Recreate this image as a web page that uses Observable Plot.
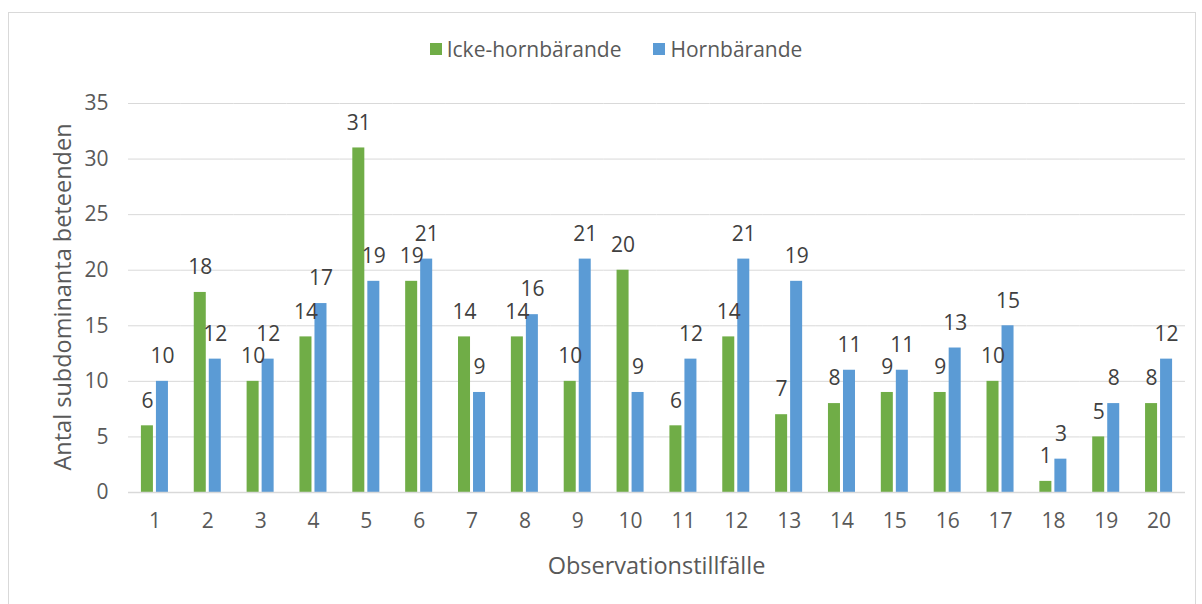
<!DOCTYPE html>
<html>
<head>
<meta charset="utf-8">
<script src="https://cdn.jsdelivr.net/npm/d3@7"></script>
<script src="https://cdn.jsdelivr.net/npm/@observablehq/plot@0.6"></script>
<style>
  body { margin: 0; background: #fff; font-family: "Open Sans", Lato, sans-serif; }
  #wrap { position: relative; width: 1202px; height: 604px; overflow: hidden; }
  #frame { position: absolute; left: 8px; top: 12px; width: 1188px; height: 640px; border: 1px solid #d9d9d9; box-sizing: border-box; }
  #legend { position: absolute; left: 0; top: 35px; width: 1202px; height: 28px; display: flex; justify-content: center; align-items: center; gap: 32px; padding-left: 30px; box-sizing: border-box; font-size: 21px; color: #595959; }
  .item { display: flex; align-items: center; gap: 5px; }
  .sw { width: 12px; height: 12px; display: inline-block; }
  #chart { position: absolute; left: 0; top: 85px; }
  #xtitle { position: absolute; left: 128px; width: 1057px; top: 549px; text-align: center; font-size: 23.5px; color: #595959; line-height: 32px; }
  #ytitle { position: absolute; left: 62px; top: 297px; transform: translate(-50%, -50%) rotate(-90deg); white-space: nowrap; font-size: 23.5px; color: #595959; line-height: 32px; }
</style>
</head>
<body>
<div id="wrap">
  <div id="frame"></div>
  <div id="legend"></div>
  <div id="chart"></div>
  <div id="xtitle"></div>
  <div id="ytitle"></div>
</div>
<script>
const sessions = [1, 2, 3, 4, 5, 6, 7, 8, 9, 10, 11, 12, 13, 14, 15, 16, 17, 18, 19, 20];
const seriesNames = ["Icke-hornbärande", "Hornbärande"];
const ickeHorn = [6, 18, 10, 14, 31, 19, 14, 14, 10, 20, 6, 14, 7, 8, 9, 9, 10, 1, 5, 8];
const horn = [10, 12, 12, 17, 19, 21, 9, 16, 21, 9, 12, 21, 19, 11, 11, 13, 15, 3, 8, 12];
const seriesColors = ["#70ad47", "#5b9bd5"];
const yTicks = [0, 5, 10, 15, 20, 25, 30, 35];
const xTitle = "Observationstillfälle";
const yTitle = "Antal subdominanta beteenden";

const rows = [];
sessions.forEach((s, i) => {
  rows.push({session: s, series: seriesNames[0], value: ickeHorn[i]});
  rows.push({session: s, series: seriesNames[1], value: horn[i]});
});

// legend
const legend = document.getElementById("legend");
seriesNames.forEach((n, i) => {
  const it = document.createElement("div");
  it.className = "item";
  const sw = document.createElement("span");
  sw.className = "sw";
  sw.style.background = seriesColors[i];
  const t = document.createElement("span");
  t.textContent = n;
  it.appendChild(sw); it.appendChild(t);
  legend.appendChild(it);
});
document.getElementById("xtitle").textContent = xTitle;
document.getElementById("ytitle").textContent = yTitle;

const chart = Plot.plot({
  width: 1202,
  height: 519,
  marginTop: 18,
  marginBottom: 112,
  marginLeft: 128,
  marginRight: 17,
  style: {fontFamily: "'Open Sans', Lato, sans-serif", color: "#595959", background: "transparent"},
  fx: {domain: sessions, padding: 0, round: false},
  x: {domain: seriesNames, paddingInner: 0.2, paddingOuter: 0.86, round: false, axis: null},
  y: {domain: [0, 35], axis: null},
  color: {domain: seriesNames, range: seriesColors},
  marks: [
    Plot.gridY(yTicks, {stroke: "#d9d9d9", strokeOpacity: 1}),
    Plot.barY(rows, {fx: "session", x: "series", y: "value", fill: "series"}),
    Plot.ruleY([0], {stroke: "#d9d9d9", strokeWidth: 1.5}),
    Plot.text(rows, {fx: "session", x: "series", y: "value", text: d => String(d.value), dy: -25, fontSize: 21, fill: "#404040"}),
    Plot.axisY(yTicks, {tickSize: 0, tickPadding: 20, fontSize: 21, label: null}),
    Plot.axisFx({anchor: "bottom", tickSize: 0, tickPadding: 21, fontSize: 21, label: null})
  ]
});
document.getElementById("chart").appendChild(chart);
</script>
</body>
</html>
